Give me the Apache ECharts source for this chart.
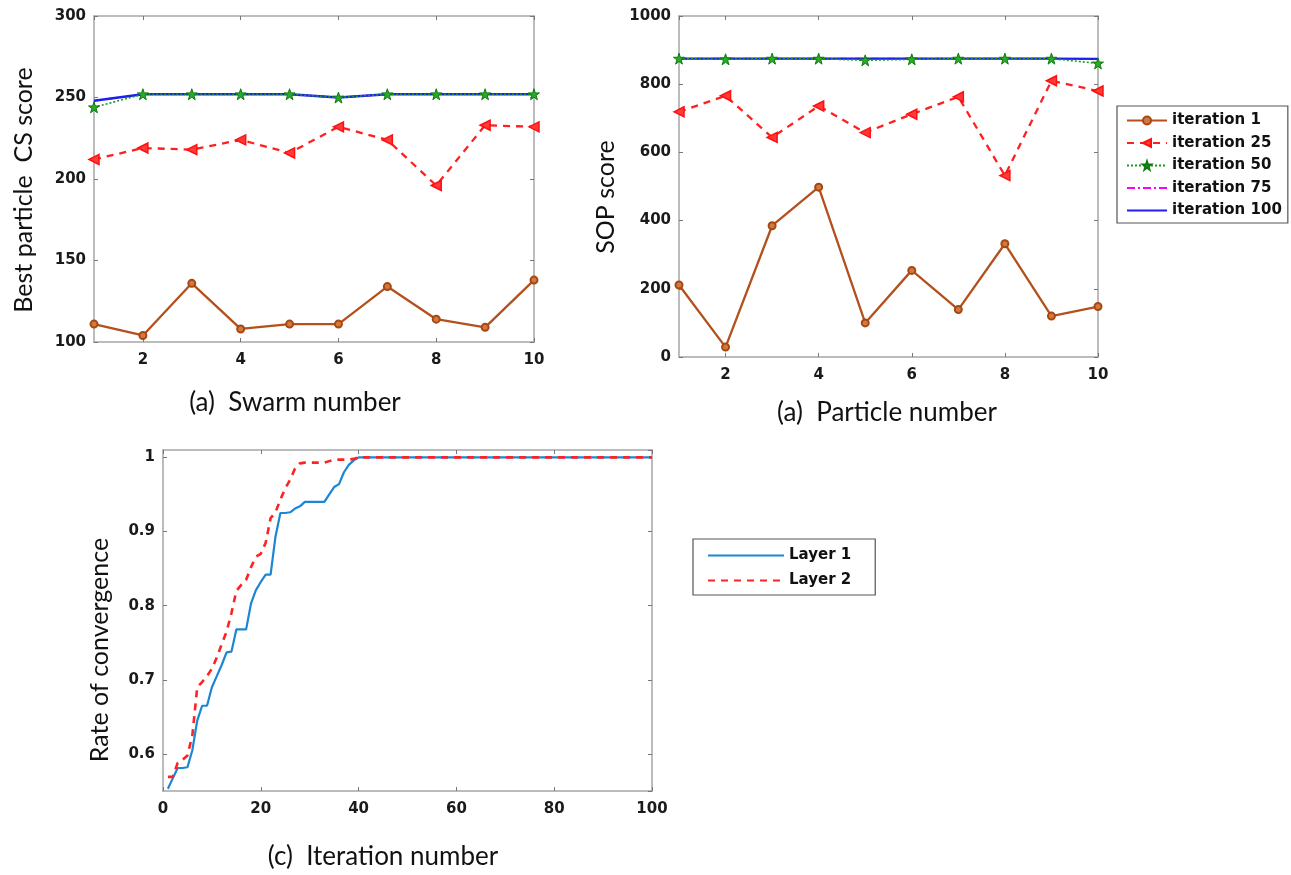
<!DOCTYPE html>
<html>
<head>
<meta charset="utf-8">
<title>PSO convergence</title>
<script src="https://cdn.jsdelivr.net/npm/echarts@6/dist/echarts.min.js"></script>
<style>
  html, body { margin: 0; padding: 0; background: #ffffff; }
  #chart { width: 1291px; height: 875px; }
</style>
</head>
<body>
<div id="chart"></div>
<script>
// ---- data ----
const swarmNumber = [1, 2, 3, 4, 5, 6, 7, 8, 9, 10];
const particleNumber = [1, 2, 3, 4, 5, 6, 7, 8, 9, 10];
const iterationNames = ['iteration 1', 'iteration 25', 'iteration 50', 'iteration 75', 'iteration 100'];
const layerNames = ['Layer 1', 'Layer 2'];

// Best particle CS score per swarm
const csIter1   = [111, 104, 136, 108, 111, 111, 134, 114, 109, 138];
const csIter25  = [212, 219, 218, 224, 216, 232, 224, 196, 233, 232];
const csIter50  = [244, 252, 252, 252, 252, 250, 252, 252, 252, 252];
const csIter75  = [248, 252, 252, 252, 252, 250, 252, 252, 252, 252];
const csIter100 = [248, 252, 252, 252, 252, 250, 252, 252, 252, 252];

// SOP score per particle
const sopIter1   = [211, 29, 385, 498, 100, 254, 139, 332, 120, 148];
const sopIter25  = [719, 766, 644, 736, 658, 712, 763, 532, 810, 780];
const sopIter50  = [875, 873, 875, 875, 870, 873, 875, 875, 875, 861];
const sopIter75  = [875, 875, 875, 875, 875, 875, 875, 875, 875, 874];
const sopIter100 = [875, 875, 875, 875, 875, 875, 875, 875, 875, 874];

// Rate of convergence per iteration (constant at 1 from iteration 40 on)
const iterationNumber = [1, 2, 3, 4, 5, 6, 7, 8, 9, 10, 11, 12, 13, 14, 15, 16, 17, 18, 19, 20,
  21, 22, 23, 24, 25, 26, 27, 28, 29, 30, 31, 32, 33, 34, 35, 36, 37, 38, 39, 40, 100];
const layer1Rate = [0.553, 0.567, 0.581, 0.581, 0.582, 0.605, 0.645, 0.665, 0.665, 0.690,
  0.705, 0.720, 0.737, 0.738, 0.768, 0.768, 0.768, 0.803, 0.821, 0.832,
  0.842, 0.842, 0.893, 0.925, 0.925, 0.926, 0.931, 0.934, 0.940, 0.940,
  0.940, 0.940, 0.940, 0.950, 0.960, 0.964, 0.980, 0.990, 0.996, 1.000, 1.000];
const layer2Rate = [0.569, 0.569, 0.588, 0.592, 0.598, 0.625, 0.690, 0.697, 0.705, 0.715,
  0.730, 0.748, 0.765, 0.790, 0.820, 0.828, 0.835, 0.852, 0.866, 0.870,
  0.885, 0.918, 0.926, 0.943, 0.958, 0.970, 0.985, 0.992, 0.993, 0.993,
  0.993, 0.993, 0.993, 0.995, 0.997, 0.997, 0.997, 0.997, 0.998, 1.000, 1.000];

// ---- styling helpers ----
const plainNumber = (v) => String(+Number(v).toFixed(4));
const tickFont = { fontFamily: 'DejaVu Sans', fontWeight: 'bold', fontSize: 15, color: '#1a1a1a', formatter: plainNumber };
const frameColor = '#a6a6a6';
const titleFont = 'Lato';
const starPath = 'path://M50,2 L61,36 L97,36 L68,57 L79,92 L50,71 L21,92 L32,57 L3,36 L39,36 Z';

const pairs = (xs, ys) => xs.map((x, i) => [x, ys[i]]);

function axisBase(gridIndex, min, max, position) {
  return {
    type: 'value', gridIndex, min, max, position,
    axisLine: { show: true, onZero: false, lineStyle: { color: frameColor, width: 1.5 } },
    axisTick: { show: true, inside: true, length: 4, lineStyle: { color: '#777' } },
    splitLine: { show: false }
  };
}
function mainXAxis(gridIndex, min, max, extra) {
  return Object.assign(axisBase(gridIndex, min, max, 'bottom'), {
    axisLabel: Object.assign({ margin: 11, showMinLabel: false }, tickFont)
  }, extra || {});
}
function mirrorXAxis(gridIndex, min, max, extra) {
  return Object.assign(axisBase(gridIndex, min, max, 'top'), { axisLabel: { show: false } }, extra || {});
}
function mainYAxis(gridIndex, min, max, extra) {
  return Object.assign(axisBase(gridIndex, min, max, 'left'), {
    axisLabel: Object.assign({ margin: 8 }, tickFont)
  }, extra || {});
}
function mirrorYAxis(gridIndex, min, max, extra) {
  return Object.assign(axisBase(gridIndex, min, max, 'right'), { axisLabel: { show: false } }, extra || {});
}

// line styles of the five iteration snapshots
const iterStyles = [
  { color: '#b3501c', line: { width: 2.3, type: 'solid' }, symbol: 'circle', size: 7,
    item: { color: '#cf7a45', borderColor: '#a8470f', borderWidth: 2 }, z: 2 },
  { color: '#ff1f1f', line: { width: 2.3, type: [7, 6] }, symbol: 'triangle', size: 10, rotate: 90,
    item: { color: '#ff3a3a', borderColor: '#ff1010', borderWidth: 1.5 }, z: 3 },
  { color: '#1a9a1a', line: { width: 1.6, type: [2, 2] }, symbol: starPath, size: 11,
    item: { color: '#2aaa2a', borderColor: '#0e7a0e', borderWidth: 1 }, z: 6 },
  { color: '#ff00ff', line: { width: 1.6, type: [8, 3, 2, 3] }, symbol: 'none', size: 0,
    item: { color: '#ff00ff' }, z: 4 },
  { color: '#1e1ef0', line: { width: 2.3, type: 'solid' }, symbol: 'none', size: 0,
    item: { color: '#1e1ef0' }, z: 5 }
];

function iterSeries(name, style, xIdx, yIdx, data) {
  return {
    name, type: 'line', xAxisIndex: xIdx, yAxisIndex: yIdx,
    data, z: style.z,
    symbol: style.symbol, symbolSize: style.size, symbolRotate: style.rotate || 0,
    showSymbol: style.symbol !== 'none',
    lineStyle: Object.assign({ color: style.color }, style.line),
    itemStyle: style.item,
    color: style.color,
    emphasis: { disabled: true }
  };
}

const csData = [csIter1, csIter25, csIter50, csIter75, csIter100];
const sopData = [sopIter1, sopIter25, sopIter50, sopIter75, sopIter100];

const series = [];
iterationNames.forEach((name, k) => {
  series.push(iterSeries(name, iterStyles[k], 0, 0, pairs(swarmNumber, csData[k])));
});
iterationNames.forEach((name, k) => {
  series.push(iterSeries(name, iterStyles[k], 2, 2, pairs(particleNumber, sopData[k])));
});
series.push({
  name: layerNames[0], type: 'line', xAxisIndex: 4, yAxisIndex: 4,
  data: pairs(iterationNumber, layer1Rate), showSymbol: false, symbol: 'none',
  color: '#1c86d4', lineStyle: { color: '#1c86d4', width: 2.2 }, emphasis: { disabled: true }
});
series.push({
  name: layerNames[1], type: 'line', xAxisIndex: 4, yAxisIndex: 4,
  data: pairs(iterationNumber, layer2Rate), showSymbol: false, symbol: 'none',
  color: '#ff2222', lineStyle: { color: '#ff2222', width: 2.6, type: [7, 6] }, emphasis: { disabled: true }
});

function caption(text, x, y, rotate, size) {
  return {
    type: 'text', x, y, rotation: rotate ? Math.PI / 2 : 0,
    style: { text, fontFamily: titleFont, fontSize: size, fill: '#111', align: 'center', verticalAlign: 'middle' },
    silent: true
  };
}

// legend entries without markers for the plain lines
const noMarker = { opacity: 0 };
const legendText = { fontFamily: 'DejaVu Sans', fontWeight: 'bold', fontSize: 15, color: '#111' };

const option = {
  animation: false,
  backgroundColor: '#ffffff',
  grid: [
    { left: 94, top: 16, width: 440, height: 326 },
    { left: 679, top: 16, width: 419, height: 341 },
    { left: 163, top: 450, width: 489, height: 341 }
  ],
  xAxis: [
    mainXAxis(0, 1, 10), mirrorXAxis(0, 1, 10),
    mainXAxis(1, 1, 10), mirrorXAxis(1, 1, 10),
    mainXAxis(2, 0, 100, { interval: 20, axisLabel: Object.assign({ margin: 11 }, tickFont) }),
    mirrorXAxis(2, 0, 100, { interval: 20 })
  ],
  yAxis: [
    mainYAxis(0, 100, 300, { interval: 50 }), mirrorYAxis(0, 100, 300, { interval: 50 }),
    mainYAxis(1, 0, 1000, { interval: 200 }), mirrorYAxis(1, 0, 1000, { interval: 200 }),
    mainYAxis(2, 0.55, 1.01, {
      splitNumber: 5,
      axisLabel: Object.assign({ margin: 8, showMinLabel: false, showMaxLabel: false }, tickFont)
    }),
    mirrorYAxis(2, 0.55, 1.01, { splitNumber: 5 })
  ],
  legend: [
    {
      data: [
        { name: iterationNames[0] },
        { name: iterationNames[1] },
        { name: iterationNames[2] },
        { name: iterationNames[3], itemStyle: noMarker },
        { name: iterationNames[4], itemStyle: noMarker }
      ],
      orient: 'vertical', left: 1117, top: 106,
      itemWidth: 40, itemHeight: 10, itemGap: 7.5,
      padding: [7, 6, 5, 9],
      borderColor: '#555', borderWidth: 1.2, borderRadius: 0,
      textStyle: legendText,
      selectedMode: false
    },
    {
      data: [
        { name: layerNames[0], itemStyle: noMarker },
        { name: layerNames[1], itemStyle: noMarker }
      ],
      orient: 'vertical', left: 693, top: 539,
      itemWidth: 76, itemHeight: 14, itemGap: 10,
      padding: [9, 24, 7, 14],
      borderColor: '#555', borderWidth: 1.2, borderRadius: 0,
      textStyle: legendText,
      selectedMode: false
    }
  ],
  graphic: [
    caption('Best particle  CS score', 24, 190, true, 25),
    caption('SOP score', 606, 197, true, 25),
    caption('Rate of convergence', 100, 650, true, 25),
    caption('(a)  Swarm number', 295, 403, false, 26),
    caption('(a)  Particle number', 887, 413, false, 26),
    caption('(c)  Iteration number', 383, 857, false, 26)
  ],
  series
};

const chart = echarts.init(document.getElementById('chart'), null, { renderer: 'canvas' });
chart.setOption(option);
</script>
</body>
</html>
